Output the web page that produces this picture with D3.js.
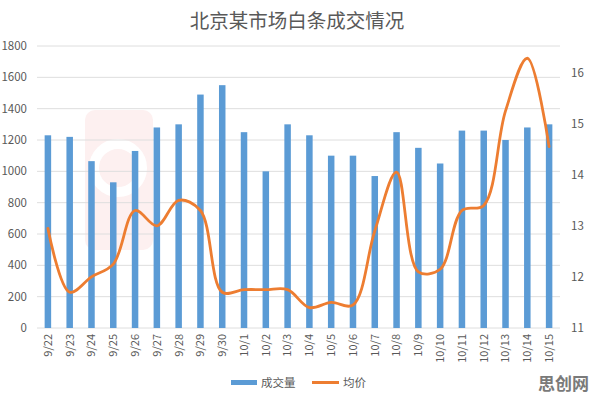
<!DOCTYPE html>
<html>
<head>
<meta charset="utf-8">
<title>北京某市场白条成交情况</title>
<script src="https://d3js.org/d3.v7.min.js"></script>
<style>
  body { margin: 0; background: #fff; }
  text { font-family: "Noto Sans CJK SC", "Noto Sans", sans-serif; }
</style>
</head>
<body>
<svg width="596" height="402"></svg>
<script>
// data
var dates = ["9/22","9/23","9/24","9/25","9/26","9/27","9/28","9/29","9/30","10/1","10/2","10/3",
             "10/4","10/5","10/6","10/7","10/8","10/9","10/10","10/11","10/12","10/13","10/14","10/15"];
var volume = [1230,1220,1065,930,1130,1280,1300,1490,1550,1250,1000,1300,
              1230,1100,1100,970,1250,1150,1050,1260,1260,1200,1280,1300];
var price = [12.95,11.7,12.0,12.25,13.3,13.0,13.5,13.3,11.7,11.75,11.75,11.75,
             11.4,11.5,11.45,12.9,14.05,12.1,12.15,13.3,13.4,15.25,16.28,14.55];
var leftTicks = [0,200,400,600,800,1000,1200,1400,1600,1800];
var rightTicks = [11,12,13,14,15,16];

var svg = d3.select("svg"),
    margin = { top: 46, right: 36, bottom: 74, left: 37 },
    width = +svg.attr("width") - margin.left - margin.right,
    height = +svg.attr("height") - margin.top - margin.bottom;

// faint logo watermark, sits under everything else
var wm = svg.append("g");
wm.append("rect")
    .attr("x", 85).attr("y", 110).attr("width", 68).attr("height", 140).attr("rx", 10)
    .attr("fill", "#fdf0f0");
wm.append("circle")
    .attr("cx", 118).attr("cy", 168).attr("r", 24)
    .attr("fill", "none").attr("stroke", "#ffffff").attr("stroke-width", 10);

var g = svg.append("g").attr("transform", "translate(" + margin.left + "," + margin.top + ")");

var x = d3.scaleBand().domain(dates).range([0, width]);
var y = d3.scaleLinear().domain([0, 1800]).range([height, 0]);
var y2 = d3.scaleLinear().domain([11, 16.52]).range([height, 0]);

// title
svg.append("text")
    .attr("x", 297).attr("y", 28)
    .attr("text-anchor", "middle")
    .style("font-size", "19.5px")
    .style("fill", "#595959")
    .text("北京某市场白条成交情况");

// gridlines
g.selectAll(".grid").data(leftTicks).enter().append("line")
    .attr("x1", 0).attr("x2", width)
    .attr("y1", function (d) { return y(d); })
    .attr("y2", function (d) { return y(d); })
    .attr("stroke", "#dedede").attr("stroke-width", 1);

// left axis labels
g.selectAll(".ly").data(leftTicks).enter().append("text")
    .attr("x", -10).attr("y", function (d) { return y(d); })
    .attr("dy", "0.35em").attr("text-anchor", "end")
    .style("font-size", "11.5px").style("fill", "#595959")
    .text(function (d) { return d; });

// right axis labels
g.selectAll(".ry").data(rightTicks).enter().append("text")
    .attr("x", width + 11).attr("y", function (d) { return y2(d); })
    .attr("dy", "0.35em").attr("text-anchor", "start")
    .style("font-size", "11.5px").style("fill", "#595959")
    .text(function (d) { return d; });

// bars
var bw = 6.5;
g.selectAll(".bar").data(volume).enter().append("rect")
    .attr("x", function (d, i) { return x(dates[i]) + x.bandwidth() / 2 - bw / 2; })
    .attr("y", function (d) { return y(d); })
    .attr("width", bw)
    .attr("height", function (d) { return height - y(d); })
    .attr("fill", "#5B9BD5");

// price line
var line = d3.line()
    .x(function (d, i) { return x(dates[i]) + x.bandwidth() / 2; })
    .y(function (d) { return y2(d); })
    .curve(d3.curveCatmullRom.alpha(0.5));

g.append("path")
    .attr("d", line(price))
    .attr("fill", "none")
    .attr("stroke", "#ED7D31")
    .attr("stroke-width", 2.8)
    .attr("stroke-linecap", "round");

// x labels, rotated
g.selectAll(".xl").data(dates).enter().append("text")
    .attr("transform", function (d) {
        return "translate(" + (x(d) + x.bandwidth() / 2) + "," + (height + 6) + ") rotate(-90)";
    })
    .attr("dy", "0.35em").attr("text-anchor", "end")
    .style("font-size", "11px").style("fill", "#595959")
    .text(function (d) { return d; });

// legend
var legend = svg.append("g");
legend.append("rect").attr("x", 231).attr("y", 380).attr("width", 26).attr("height", 5).attr("fill", "#5B9BD5");
legend.append("text").attr("x", 261).attr("y", 383).attr("dy", "0.35em")
    .style("font-size", "11.5px").style("fill", "#595959").text("成交量");
legend.append("rect").attr("x", 312).attr("y", 381).attr("width", 27).attr("height", 3).attr("fill", "#ED7D31");
legend.append("text").attr("x", 343).attr("y", 383).attr("dy", "0.35em")
    .style("font-size", "11.5px").style("fill", "#595959").text("均价");

// corner mark
svg.append("text")
    .attr("x", 589).attr("y", 384).attr("dy", "0.35em").attr("text-anchor", "end")
    .style("font-size", "17px").style("font-weight", "bold").style("fill", "#7a7a7a")
    .text("思创网");
</script>
</body>
</html>
